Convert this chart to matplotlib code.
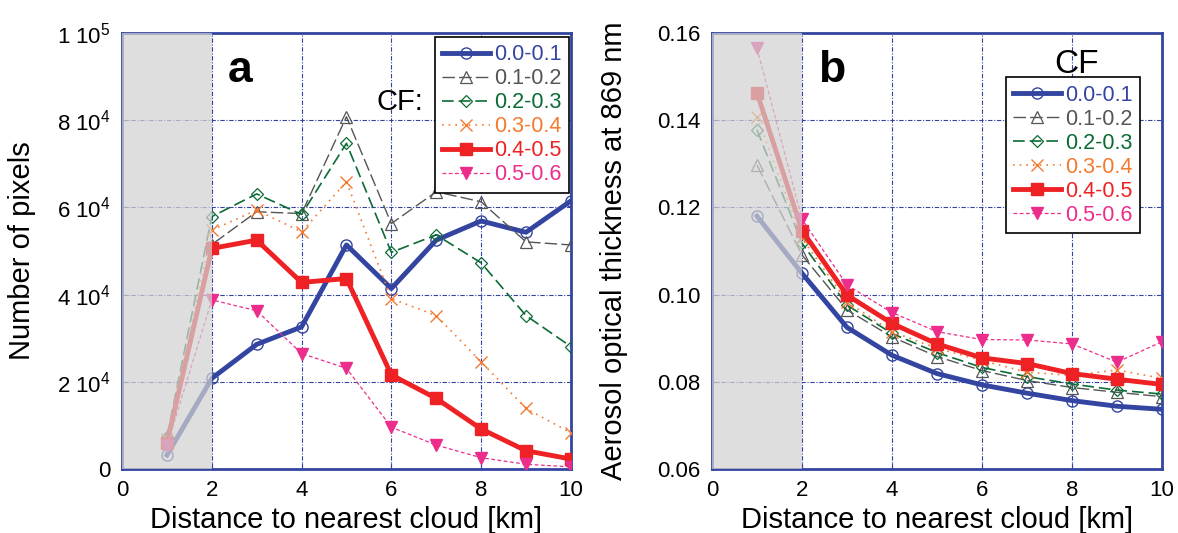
import numpy as np
import matplotlib
matplotlib.use("Agg")
import matplotlib.pyplot as plt

plt.rcParams['font.family'] = ['Liberation Sans', 'DejaVu Sans']
plt.rcParams['mathtext.fontset'] = 'custom'
plt.rcParams['mathtext.rm'] = 'Liberation Sans'

# distance to nearest cloud [km]
dist = [1, 2, 3, 4, 5, 6, 7, 8, 9, 10]
cf_labels = ["0.0-0.1", "0.1-0.2", "0.2-0.3", "0.3-0.4", "0.4-0.5", "0.5-0.6"]

# panel a: number of pixels
npix_01 = [3200, 20800, 28600, 32600, 51400, 41400, 52500, 56900, 54300, 61500]
npix_12 = [7500, 51500, 59000, 58600, 80800, 56300, 63600, 61300, 52100, 51400]
npix_23 = [7400, 57900, 63100, 58400, 74700, 49700, 53700, 47300, 35200, 28100]
npix_34 = [7000, 54800, 59400, 54400, 65900, 39100, 35200, 24600, 13900, 8300]
npix_45 = [5900, 50600, 52500, 42800, 43700, 21600, 16200, 9200, 4200, 2300]
npix_56 = [5300, 38800, 36300, 26500, 23100, 9600, 5500, 2600, 1100, 500]

# panel b: aerosol optical thickness at 869 nm
aot_01 = [0.1180, 0.1049, 0.0925, 0.0861, 0.0819, 0.0793, 0.0774, 0.0757, 0.0744, 0.0737]
aot_12 = [0.1297, 0.1091, 0.0965, 0.0903, 0.0858, 0.0826, 0.0803, 0.0787, 0.0776, 0.0766]
aot_23 = [0.1378, 0.1118, 0.0976, 0.0911, 0.0867, 0.0833, 0.0812, 0.0795, 0.0781, 0.0772]
aot_34 = [0.1408, 0.1129, 0.0984, 0.0915, 0.0877, 0.0849, 0.0822, 0.0815, 0.0827, 0.0808]
aot_45 = [0.1463, 0.1147, 0.0999, 0.0934, 0.0887, 0.0855, 0.0842, 0.0819, 0.0806, 0.0794]
aot_56 = [0.1565, 0.1173, 0.1022, 0.0959, 0.0915, 0.0897, 0.0896, 0.0887, 0.0845, 0.0892]

navy = '#3345a0'
colors = ['#3345a0', '#555555', '#0b6b34', '#f47a30', '#ee2224', '#ec2d8c']
styles = [
    dict(ls='-', lw=3.5, marker='o', ms=8, mfc='none', mew=1.0),
    dict(ls=(0, (9, 3)), lw=1.0, marker='^', ms=8, mfc='none', mew=0.9),
    dict(ls=(0, (7, 3)), lw=1.2, marker='D', ms=6.5, mfc='none', mew=0.9),
    dict(ls=(0, (1, 3)), lw=1.2, marker='x', ms=9, mew=1.0),
    dict(ls='-', lw=3.5, marker='s', ms=9),
    dict(ls=(0, (3, 2)), lw=0.9, marker='v', ms=8.5),
]

fig = plt.figure(figsize=(11.78, 5.33), dpi=100)
ax_a = fig.add_axes([0.1036, 0.120, 0.381, 0.818])
ax_b = fig.add_axes([0.6044, 0.120, 0.382, 0.818])


def draw(ax, series):
    handles = []
    for y, c, st, lab in zip(series, colors, styles, cf_labels):
        h, = ax.plot(dist, y, color=c, label=lab, zorder=3, **st)
        handles.append(h)
    # shaded zone close to clouds
    ax.axvspan(0, 2, facecolor='#d2d2d2', alpha=0.72, zorder=5, lw=0)
    ax.set_xlim(0, 10)
    ax.set_xticks([0, 2, 4, 6, 8, 10])
    ax.grid(True, color=navy, lw=0.8, ls=(0, (4, 1.5, 1, 1.5)))
    for s in ax.spines.values():
        s.set_color(navy)
        s.set_linewidth(2)
    ax.tick_params(direction='in', length=4, labelsize=16, color=navy)
    ax.tick_params(axis='x', pad=8)
    ax.tick_params(axis='y', pad=8)
    ax.set_xlabel("Distance to nearest cloud [km]", fontsize=21, va='center')
    ax.xaxis.set_label_coords(0.5, -0.117)
    return handles


def add_legend(ax, handles, anchor):
    leg = ax.legend(handles=handles, loc='upper right', bbox_to_anchor=anchor,
                    fontsize=15.5, handlelength=2.2, handletextpad=0.2,
                    labelspacing=0.14, borderpad=0.35, borderaxespad=0,
                    fancybox=False, framealpha=1, edgecolor='black')
    leg.set_zorder(10)
    leg.get_frame().set_linewidth(1.2)
    for t, c in zip(leg.get_texts(), colors):
        t.set_color(c)
    return leg


ha = draw(ax_a, [npix_01, npix_12, npix_23, npix_34, npix_45, npix_56])
ax_a.set_ylim(0, 100000)
yt = [0, 20000, 40000, 60000, 80000, 100000]
ax_a.set_yticks(yt)
ax_a.set_yticklabels(["0", r"2 10$^{4}$", r"4 10$^{4}$", r"6 10$^{4}$",
                      r"8 10$^{4}$", r"1 10$^{5}$"])
ax_a.set_ylabel("Number of pixels", fontsize=21, va='center')
ax_a.yaxis.set_label_coords(-0.223, 0.5)
ax_a.text(0.235, 0.915, "a", transform=ax_a.transAxes, fontsize=32,
          fontweight='bold', va='center', ha='left', zorder=6)
ax_a.text(0.62, 0.842, "CF:", transform=ax_a.transAxes, fontsize=21,
          va='center', ha='center', zorder=6)
add_legend(ax_a, ha, (0.996, 0.992))

hb = draw(ax_b, [aot_01, aot_12, aot_23, aot_34, aot_45, aot_56])
ax_b.set_ylim(0.06, 0.16)
ax_b.set_yticks([0.06, 0.08, 0.10, 0.12, 0.14, 0.16])
ax_b.set_yticklabels(["0.06", "0.08", "0.10", "0.12", "0.14", "0.16"])
ax_b.set_ylabel("Aerosol optical thickness at 869 nm", fontsize=21, va='center')
ax_b.yaxis.set_label_coords(-0.218, 0.5)
ax_b.text(0.235, 0.915, "b", transform=ax_b.transAxes, fontsize=32,
          fontweight='bold', va='center', ha='left', zorder=6)
ax_b.text(0.811, 0.929, "CF", transform=ax_b.transAxes, fontsize=24,
          va='center', ha='center', zorder=6)
add_legend(ax_b, hb, (0.951, 0.899))

fig.savefig("out.png", dpi=100)
